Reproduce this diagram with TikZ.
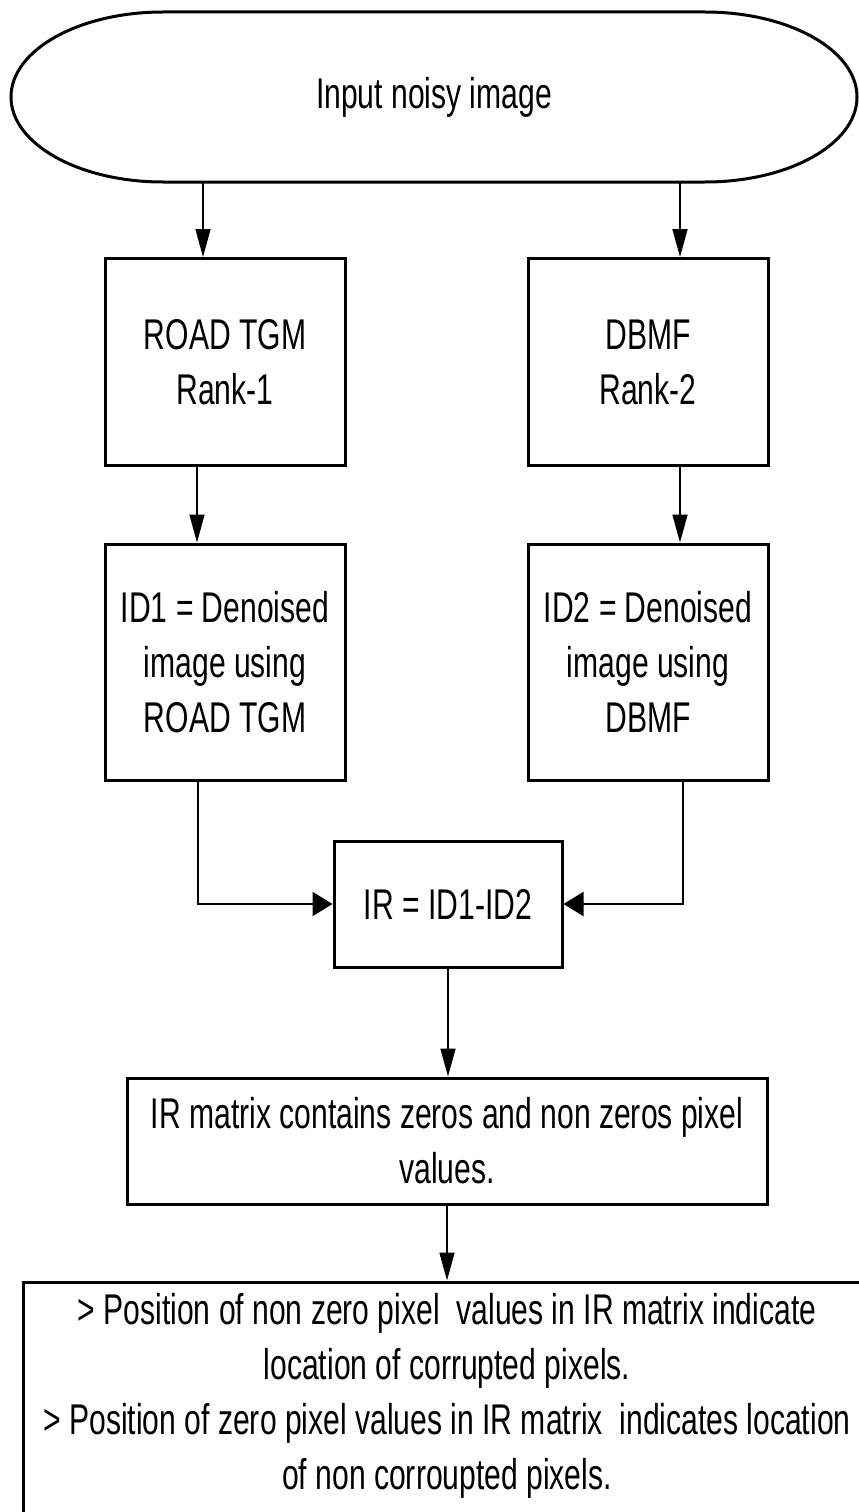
\documentclass[tikz,border=0pt]{standalone}
\usepackage{fontspec}
\setmainfont[FakeStretch=0.7]{Liberation Sans}
\usetikzlibrary{arrows.meta,calc}
\begin{document}
\begin{tikzpicture}[x=1pt,y=-1pt,
  box/.style={draw=black,line width=3pt,fill=white,align=center,inner sep=0pt},
  txt/.style={font=\fontsize{43pt}{55pt}\selectfont,align=center},
  varrow/.style={line width=1.6pt,-{Triangle[length=28pt,width=15pt]}},
  harrow/.style={line width=2.2pt,-{Triangle[length=20pt,width=24pt]}}]
\useasboundingbox (0,0) rectangle (859,1512);
\fill[white] (0,0) rectangle (859,1512);
% start terminal
\node[txt,minimum width=846pt,minimum height=170pt,outer sep=0pt,inner sep=0pt] (input) at (434,97) {Input noisy image};
\draw[line width=3pt] ([xshift=-271pt]input.north) -- ([xshift=271pt]input.north)
  arc[start angle=90,end angle=-90,x radius=152pt,y radius=85pt]
  -- ([xshift=-271pt]input.south)
  arc[start angle=270,end angle=90,x radius=152pt,y radius=85pt] -- cycle;
% boxes
\node[box,txt,minimum width=240pt,minimum height=207pt] (A) at (225,362) {ROAD TGM\\Rank-1};
\node[box,txt,minimum width=240pt,minimum height=207pt] (B) at (648,362) {DBMF\\Rank-2};
\node[box,txt,minimum width=240pt,minimum height=236pt] (C) at (225,662) {ID1 = Denoised\\image using\\ROAD TGM};
\node[box,txt,minimum width=240pt,minimum height=236pt] (D) at (648,662) {ID2 = Denoised\\image using\\DBMF};
\node[box,txt,minimum width=228pt,minimum height=126pt] (IR) at (448,904) {IR = ID1-ID2};
\node[box,txt,minimum width=640pt,minimum height=126pt] (E) at (447,1141) {IR matrix contains zeros and non zeros pixel\\values.};
\node[box,minimum width=852pt,minimum height=248pt] (F) at (449,1406) {};
\node[txt] (Ft) at (447,1396) {> Position of non zero pixel\ \ values in IR matrix indicate\\location of corrupted pixels.\\> Position of zero pixel values in IR matrix\ \ indicates location\\of non corroupted pixels.};
% connectors
\draw[varrow] ([xshift=-231pt]input.south) -- ([xshift=-22pt]A.north);
\draw[varrow] ([xshift=246pt]input.south) -- ([xshift=32pt]B.north);
\draw[varrow] ([xshift=-28pt]A.south) -- ([xshift=-28pt]C.north);
\draw[varrow] ([xshift=32pt]B.south) -- ([xshift=32pt]D.north);
\draw[harrow] ([xshift=-27pt]C.south) |- (IR.west);
\draw[harrow] ([xshift=35pt]D.south) |- (IR.east);
\draw[varrow] (IR.south) -- (IR.south |- E.north);
\draw[varrow] (E.south) -- (E.south |- F.north);
\end{tikzpicture}
\end{document}
